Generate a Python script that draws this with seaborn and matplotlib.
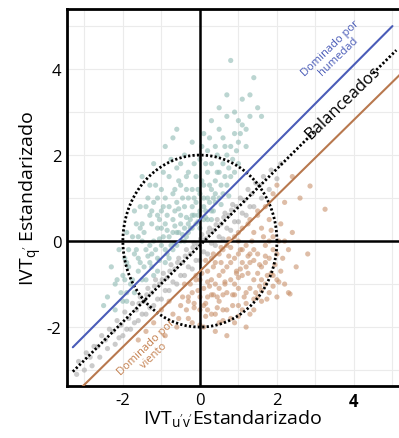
import matplotlib
matplotlib.use("Agg")
import matplotlib.pyplot as plt
import seaborn as sns
import numpy as np
import pandas as pd

# ---------------- data ----------------
humid_x = [-2.0,-1.9,-1.8,-1.7,-1.7,-1.6,-1.6,-1.5,-1.5,-1.4,-1.4,-1.3,-1.3,-1.2,-1.2,-1.2,-1.1,-1.1,-1.0,-1.0,
           -1.0,-0.9,-0.9,-0.9,-0.8,-0.8,-0.8,-0.7,-0.7,-0.7,-0.6,-0.6,-0.6,-0.5,-0.5,-0.5,-0.4,-0.4,-0.4,-0.3,
           -0.3,-0.3,-0.2,-0.2,-0.2,-0.1,-0.1,0.0,0.0,0.0,0.1,0.1,0.1,0.2,0.2,0.2,0.3,0.3,0.3,0.4,
           0.4,0.5,0.5,0.5,0.6,0.6,0.7,0.7,0.7,0.8,0.8,0.9,0.9,1.0,1.0,1.1,1.1,1.2,1.3,1.4,
           1.3,1.5,1.2,1.6,-1.5,-1.2,-0.9,-0.6,-0.7,-1.3,-1.7,-1.9,-2.1,-2.2,-2.4,-2.0,-1.9,-2.3,-2.5,-2.2,
           -1.5,-1.3,-1.1,-0.9,-0.7,-0.6,-0.4,-0.3,-0.2,-0.1,0.0,0.1,0.2,0.3,0.4,0.5,0.6,0.7,0.8,0.9,
           1.0,0.3,-0.8,-1.4,-1.0,-0.5,0.1,-0.2,0.4,-1.6,-1.9,-1.1,-0.65,-0.35,-0.85,-1.25,-0.15,0.25,-0.55,-1.05,
           -1.95,-1.85,-1.75,-1.65,-1.55,-1.45,-1.35,-1.25,-1.15,-1.05,-0.95,-0.85,-0.75,-0.65,-0.55,-0.45,-0.35,-0.25,-0.15,-0.05,
           0.05,0.15,0.25,0.35,0.45,0.55,0.65,0.75,0.85,0.95,-1.55,-1.35,-1.15,-0.95,-0.75,-0.55,-0.35,-0.15,0.05,0.25,
           -1.85,-1.65,-1.45,-1.25,-1.05,-0.85,-0.65,-0.45,-0.25,-0.05,0.15,0.35,0.55,0.75,-2.05,-2.15,-1.95,-1.75,-1.55,-1.25,
           -0.95,-0.65,-0.35,-0.05,0.15,0.45,0.65,1.05,-1.1,-0.5]
humid_y = [-0.8,-0.5,-1.0,-0.3,-1.2,0.1,-0.7,-0.9,0.4,-0.2,-0.9,0.6,-0.5,0.0,-0.8,0.9,0.3,-0.4,0.7,-0.1,
           1.2,0.4,-0.5,1.0,0.1,0.8,1.5,0.5,-0.2,1.1,0.2,0.9,1.7,0.6,0.0,1.3,0.8,0.3,2.0,1.0,
           0.4,1.6,0.6,1.2,2.3,0.9,1.5,0.7,1.1,1.9,1.3,0.8,2.5,1.0,1.6,2.1,1.2,1.8,2.8,1.4,
           2.2,1.6,2.6,3.1,1.8,2.4,2.0,2.9,3.4,2.2,4.2,2.5,3.0,2.3,2.8,2.7,3.3,2.6,3.4,3.8,
           2.9,3.1,2.2,2.9,1.5,1.8,2.2,2.6,2.4,1.3,0.7,0.2,-0.2,-1.0,-1.3,-1.4,-1.4,-0.6,-1.5,-1.6,
           0.0,-0.1,-0.7,-0.2,0.2,-0.1,0.0,0.2,0.3,0.4,0.3,0.5,0.5,0.7,0.9,1.0,1.1,1.3,1.5,1.6,
           1.8,0.5,-0.4,0.8,0.3,0.4,1.0,0.8,1.1,-0.4,-1.2,0.6,0.35,0.55,0.25,-0.3,0.6,0.9,0.75,0.05,
           -0.9,-0.6,-0.9,-0.2,-0.5,0.2,-0.35,0.4,-0.2,0.5,0.1,0.6,-0.1,0.7,0.2,1.0,0.1,0.5,1.0,0.6,
           1.4,0.7,1.3,1.0,1.6,1.3,1.5,1.7,1.9,2.1,0.8,1.0,1.3,1.6,1.9,1.4,1.2,1.8,2.2,2.4,
           -0.2,0.4,-0.6,-0.6,-0.45,-0.3,-0.05,0.15,0.3,0.45,0.55,0.7,0.85,1.05,-1.2,-0.9,-0.4,0.1,0.3,0.7,
           0.8,1.2,1.5,1.2,1.8,2.0,2.2,2.5,1.0,1.8]

wind_x = [-0.5,-0.3,-0.2,0.0,0.0,0.1,0.2,0.2,0.3,0.3,0.4,0.5,0.5,0.5,0.6,0.7,0.7,0.8,0.8,0.9,
          0.9,1.0,1.0,1.1,1.1,1.2,1.2,1.3,1.3,1.3,1.4,1.4,1.5,1.5,1.5,1.6,1.6,1.7,1.7,1.8,
          1.8,1.9,1.9,2.0,2.0,2.1,2.1,2.2,2.3,2.3,2.4,2.5,2.8,2.86,3.25,2.6,2.2,1.9,2.0,2.4,
          1.7,-1.0,-1.2,-0.8,-0.6,-0.4,-1.4,-1.6,-0.1,-0.2,0.1,0.4,0.6,0.9,1.1,1.4,1.6,1.8,1.2,0.7,
          -0.9,0.3,0.5,0.7,0.9,1.0,1.2,0.4,0.6,0.8,1.1,1.3,1.6,0.0,-0.3,0.2,1.7,1.9,2.2,1.4,
          1.0,2.34,1.74,0.85,1.05,0.45,0.15,1.25,1.55,0.65,-0.15,0.35,1.85,2.05,0.95,
          -0.45,-0.35,-0.25,-0.15,-0.05,0.05,0.15,0.25,0.35,0.45,0.55,0.65,0.75,0.85,0.95,1.05,1.15,1.25,1.35,1.45,
          1.55,1.65,1.75,1.85,1.95,2.05,2.15,0.1,0.3,0.5,0.7,0.9,1.1,1.3,1.5,1.7,1.9,0.2,0.4,0.6,
          0.8,1.0,1.2,1.4,1.6,1.8,2.0,-0.55,-0.7,-0.3,0.0,0.6,1.0,1.4,0.35,0.55,0.75,1.0,1.25,1.5,
          -0.1,0.15]
wind_y = [-1.5,-1.8,-1.2,-1.6,-0.9,-2.0,-1.3,-0.7,-1.7,-0.4,-1.0,-1.9,-0.3,-1.4,-0.7,-1.2,-0.1,-1.8,-0.5,-1.0,
          0.1,-1.5,-0.3,-0.8,0.3,-1.2,-0.1,-1.7,-0.5,0.5,-0.9,0.2,-1.3,-0.3,0.7,-0.6,0.3,-1.0,-0.1,-0.4,
          0.5,-0.8,0.1,-1.3,-0.3,-0.7,0.4,-1.0,-1.2,-0.2,0.2,-0.6,-0.3,1.28,0.74,1.0,0.9,1.1,1.3,1.5,
          0.8,-1.6,-1.9,-1.4,-2.0,-1.0,-2.1,-2.3,-0.8,-1.9,-1.1,-2.1,-1.6,-1.9,-1.6,-1.6,-1.4,-1.2,-2.0,-2.2,
          -2.2,-0.9,-1.1,-0.6,-0.4,-1.1,-0.6,-0.5,-0.2,-0.9,-0.2,-1.1,-0.9,-1.3,-1.4,-1.6,-0.5,-0.2,0.0,-0.2,
          0.0,-1.23,-1.35,-1.25,-0.65,-1.55,-1.45,-0.35,-1.05,-0.95,-1.55,-1.25,-0.75,-0.95,-0.75,
          -1.3,-1.6,-1.0,-1.45,-1.15,-0.75,-1.75,-1.05,-0.6,-1.3,-0.5,-1.0,-0.35,-1.5,-0.7,-0.2,-1.3,-0.75,0.0,-1.2,
          -0.55,0.1,-0.8,0.25,-0.55,0.0,-0.4,-1.5,-1.25,-0.8,-1.6,-1.25,-0.5,-0.3,-0.75,-0.35,-1.05,-0.95,-1.7,-1.25,
          -0.15,-0.85,-1.45,-0.45,-1.15,0.0,-0.9,-1.8,-1.7,-1.3,-1.95,-1.85,-1.75,-1.35,-0.3,-0.15,0.05,0.2,0.4,0.6,
          -0.9,-0.45]

bal_x = [-3.2,-3.15,-3.0,-2.95,-2.8,-2.75,-2.85,-2.6,-2.55,-2.65,-2.4,-2.35,-2.45,-2.2,-2.15,-2.25,-2.1,-2.0,-1.95,-2.05,
         -1.9,-1.8,-1.75,-1.85,-1.7,-1.6,-1.55,-1.65,-1.5,-1.58,-1.4,-1.35,-1.45,-1.3,-1.38,-1.2,-1.15,-1.25,-1.1,-1.18,
         -1.0,-0.95,-1.05,-0.9,-0.98,-0.8,-0.75,-0.85,-0.7,-0.78,-0.6,-0.55,-0.65,-0.5,-0.58,-0.4,-0.35,-0.45,-0.3,-0.38,
         -0.2,-0.15,-0.25,-0.1,-0.18,0.0,0.05,-0.05,0.1,0.02,0.2,0.25,0.15,0.3,0.22,0.4,0.45,0.35,0.5,0.42,
         0.6,0.65,0.55,0.7,0.62,0.8,0.85,0.75,0.9,0.82,1.0,1.05,0.95,1.1,1.2,1.25,1.15,1.3,1.4,1.45,
         1.35,1.6,1.65,1.55,1.8,1.85,2.0,2.1]
bal_y = [-3.1,-2.8,-3.0,-2.6,-2.9,-2.45,-2.7,-2.7,-2.2,-2.45,-2.5,-2.05,-2.3,-2.4,-1.85,-2.1,-2.25,-2.2,-1.65,-1.95,
         -2.05,-2.05,-1.45,-1.8,-1.9,-1.85,-1.3,-1.6,-1.7,-1.45,-1.7,-1.1,-1.4,-1.55,-1.25,-1.5,-0.9,-1.2,-1.35,-1.05,
         -1.35,-0.75,-1.0,-1.15,-0.9,-1.15,-0.55,-0.85,-0.95,-0.7,-1.0,-0.4,-0.65,-0.8,-0.5,-0.8,-0.2,-0.5,-0.6,-0.35,
         -0.65,-0.05,-0.3,-0.45,-0.15,-0.45,0.15,-0.1,-0.25,0.05,-0.3,0.3,0.05,-0.05,0.2,-0.1,0.5,0.25,0.1,0.38,
         0.05,0.65,0.4,0.3,0.55,0.25,0.85,0.6,0.45,0.72,0.45,1.0,0.8,0.65,0.6,1.2,0.95,0.8,0.8,1.35,
         1.1,1.0,1.5,1.3,1.2,1.65,1.45,1.8]

groups = ["Humedad", "Viento", "Balanceado"]
group_colors = ["#8fbab3", "#c9926c", "#a9a9a9"]

# reference lines (intercept, slope)
humid_line = (0.5, 0.9)
bal_line = (-0.1, 0.89)
wind_line = (-0.7, 0.88)
circle_radius = 2.0

x_ticks = [-2, 0, 2, 4]
y_ticks = [-2, 0, 2, 4]

# ---------------- plot ----------------
sns.set_theme(style="whitegrid")
plt.rcParams['font.family'] = ['Open Sans', 'DejaVu Sans']

df = pd.concat([
    pd.DataFrame({"x": humid_x, "y": humid_y, "g": groups[0]}),
    pd.DataFrame({"x": wind_x, "y": wind_y, "g": groups[1]}),
    pd.DataFrame({"x": bal_x, "y": bal_y, "g": groups[2]}),
])

fig = plt.figure(figsize=(3.99, 4.39), dpi=100)
ax = fig.add_axes([0.168, 0.1185, 0.832, 0.859])

sns.scatterplot(data=df, x="x", y="y", hue="g", hue_order=groups,
                palette=group_colors, s=14, alpha=0.6, linewidth=0,
                legend=False, ax=ax, zorder=2)

xlim = (-3.45, 5.17)
ylim = (-3.37, 5.4)
ax.set_xlim(*xlim)
ax.set_ylim(*ylim)

# grid every unit
ax.set_xticks(np.arange(-3, 6, 1), minor=True)
ax.set_yticks(np.arange(-3, 6, 1), minor=True)
ax.grid(which="both", color="#ebebeb", linewidth=0.8, zorder=0)
ax.set_xticks(x_ticks)
ax.set_yticks(y_ticks)
ax.set_xticklabels([str(t) for t in x_ticks])
ax.set_yticklabels([str(t) for t in y_ticks])
ax.get_xticklabels()[-1].set_fontweight("bold")
ax.tick_params(axis="both", which="major", labelsize=12, length=2, color="#bbbbbb", pad=2, labelcolor="black")
ax.tick_params(axis="both", which="minor", length=0)

for side in ["left", "bottom", "top"]:
    ax.spines[side].set_visible(True)
    ax.spines[side].set_color("black")
    ax.spines[side].set_linewidth(2)
ax.spines["right"].set_visible(False)

# zero axes
ax.axhline(0, color="black", lw=1.8, zorder=3)
ax.axvline(0, color="black", lw=1.8, zorder=3)

dot = (0, (0.8, 0.8))
# circle
th = np.linspace(0, 2 * np.pi, 400)
ax.plot(circle_radius * np.cos(th), circle_radius * np.sin(th), color="black",
        lw=2.0, ls=dot, dash_capstyle="butt", zorder=4)

# reference lines
xs = np.array([-3.3, 5.0])
ax.plot(xs, humid_line[0] + humid_line[1] * xs, color="#4a5cb8", lw=1.5, zorder=4)
xb = np.array([-3.3, 2.95])
ax.plot(xb, bal_line[0] + bal_line[1] * xb, color="black", lw=2.0, ls=dot, dash_capstyle="butt", zorder=4)
xb2 = np.array([4.5, 5.1])
ax.plot(xb2, bal_line[0] + bal_line[1] * xb2, color="black", lw=2.0, ls=dot, dash_capstyle="butt", zorder=4)
xw = np.array([-3.1, 5.2])
ax.plot(xw, wind_line[0] + wind_line[1] * xw, color="#b8784e", lw=1.5, zorder=4)

# annotations
ax.text(3.5, 4.4, "Dominado por\nhumedad", color="#4a5cb8", fontsize=8,
        rotation=44, ha="center", va="center", linespacing=1.0, zorder=5)
ax.text(3.72, 3.22, "Balanceados", color="black", fontsize=12,
        rotation=44, ha="center", va="center", zorder=5)
ax.text(-1.3, -2.55, "Dominado por\nviento", color="#c4804f", fontsize=8,
        rotation=44, ha="center", va="center", linespacing=1.0, zorder=5)

ax.set_xlabel("IVT$_{\\mathregular{u'v'}}$Estandarizado", fontsize=14, labelpad=-1, color="black")
ax.set_ylabel("IVT$_{\\mathregular{q'}}$ Estandarizado", fontsize=14, labelpad=2, color="black")

fig.savefig("out.png", dpi=100)
